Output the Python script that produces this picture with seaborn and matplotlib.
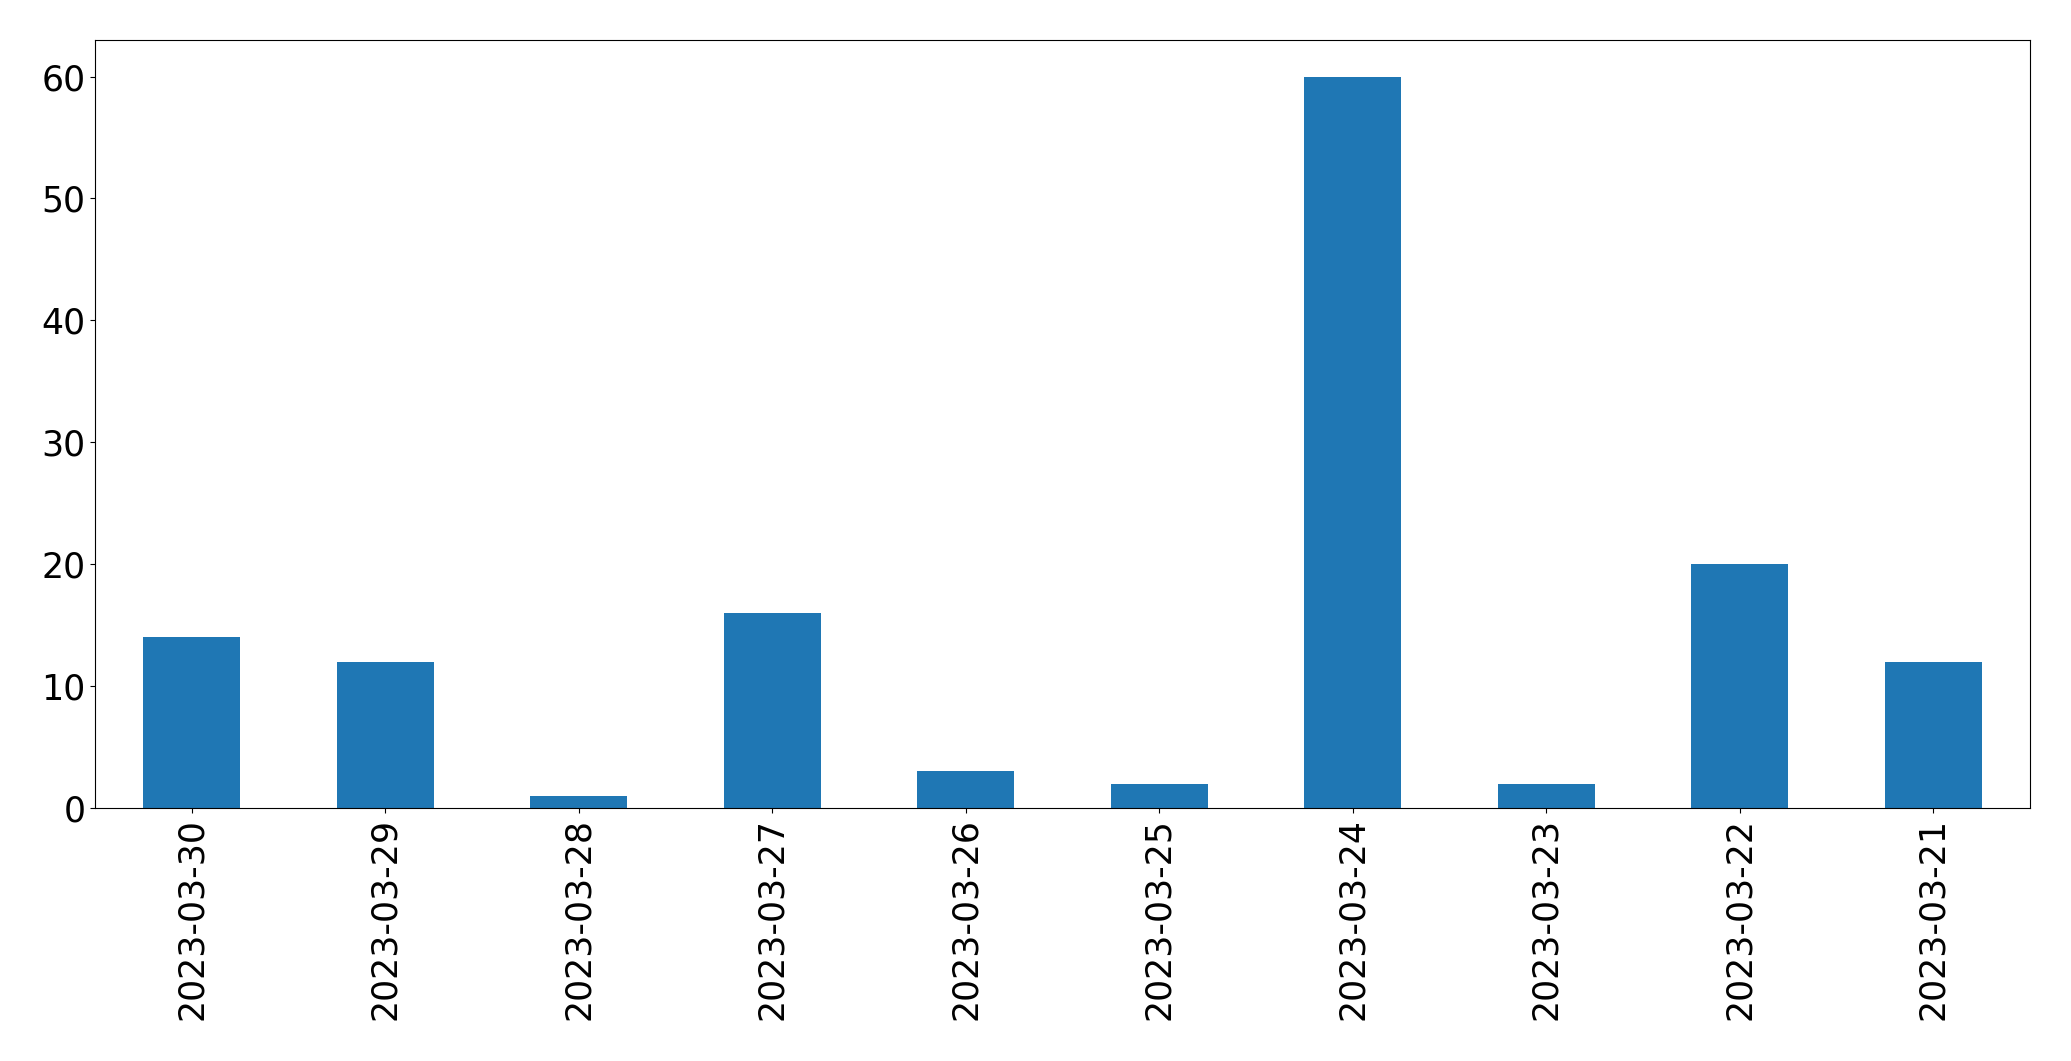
import pandas as pd
import matplotlib
matplotlib.use('Agg')
import matplotlib.pyplot as plt
import seaborn as sns

# Dane
dates = ['2023-03-30', '2023-03-29', '2023-03-28', '2023-03-27', '2023-03-26',
         '2023-03-25', '2023-03-24', '2023-03-23', '2023-03-22', '2023-03-21']
counts = [14, 12, 1, 16, 3, 2, 60, 2, 20, 12]

df = pd.DataFrame({'date': dates, 'count': counts})

fig, ax = plt.subplots(figsize=(20.71, 10.61), dpi=100)
sns.barplot(data=df, x='date', y='count', color='#1f77b4', saturation=1,
            width=0.5, linewidth=0, ax=ax)

ax.set_xlim(-0.5, len(dates) - 0.5)
ax.set_ylim(0, max(counts) * 1.05)
ax.set_xlabel('')
ax.set_ylabel('')
ax.tick_params(axis='both', labelsize=25)
ax.tick_params(axis='x', labelrotation=90)

fig.subplots_adjust(left=95 / 2071, right=2030 / 2071, top=1 - 40 / 1061, bottom=1 - 808 / 1061)
fig.savefig('out.png', dpi=100)
